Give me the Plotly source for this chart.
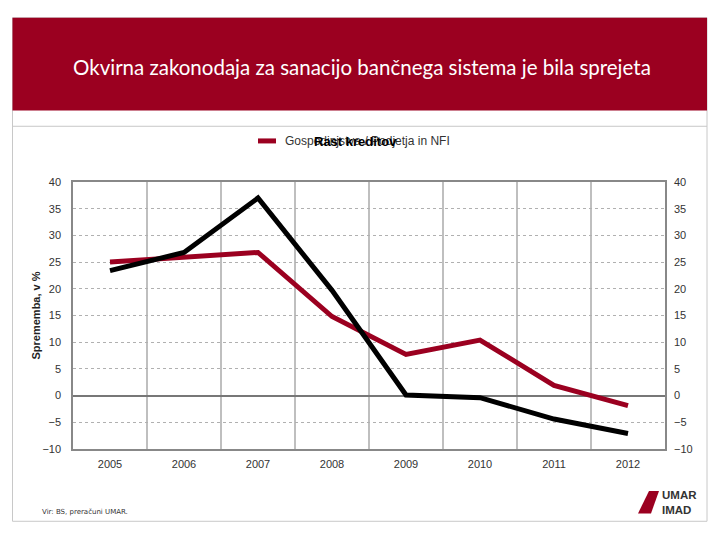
import plotly.graph_objects as go

years = ["2005", "2006", "2007", "2008", "2009", "2010", "2011", "2012"]
podjetja = [25.0, 25.8, 26.8, 14.8, 7.7, 10.4, 1.9, -1.9]
gospodinjstva = [23.4, 26.8, 37.0, 19.7, 0.1, -0.4, -4.4, -7.1]
y_ticks = [-10, -5, 0, 5, 10, 15, 20, 25, 30, 35, 40]

W, H = 720, 540
RED = "#9B0020"


def X(px):
    return px / W


def Y(py):
    return 1 - py / H


x0, x1, yt, yb = 73, 665, 180, 453

fig = go.Figure()
fig.add_trace(go.Scatter(x=years, y=podjetja, mode="lines", name="Gospodinjstva / Podjetja in NFI",
                         line=dict(color=RED, width=5), showlegend=False))
fig.add_trace(go.Scatter(x=years, y=gospodinjstva, mode="lines", name="Gospodinjstva",
                         line=dict(color="black", width=5), showlegend=False))
fig.add_trace(go.Scatter(x=years, y=podjetja, yaxis="y2", mode="lines", showlegend=False,
                         line=dict(width=0), hoverinfo="skip", opacity=0))

axfont = dict(family="Liberation Sans, Arial", size=11, color="#333333")
fig.update_layout(
    width=W, height=H,
    margin=dict(l=0, r=0, t=0, b=0),
    paper_bgcolor="white", plot_bgcolor="white",
    showlegend=False,
    xaxis=dict(domain=[X(x0), X(x1)], range=[-0.5, 7.5], type="category",
               showgrid=False, ticks="", tickfont=axfont, showline=True, linecolor="#888888",
               mirror=True, linewidth=1.5, ticklabelstandoff=4),
    yaxis=dict(domain=[Y(yb), Y(yt)], range=[-10, 40], tickvals=y_ticks,
               showgrid=True, gridcolor="#b0b0b0", griddash="dot", gridwidth=1,
               zeroline=True, zerolinecolor="#777777", zerolinewidth=1.5,
               showline=True, linecolor="#888888", linewidth=1.5, mirror=True,
               tickfont=axfont, ticks="", ticklabelstandoff=8,
               title=dict(text="<b>Sprememba, v %</b>",
                          font=dict(family="Liberation Sans, Arial", size=11, color="#222222"),
                          standoff=0)),
    yaxis2=dict(overlaying="y", side="right", range=[-10, 40], tickvals=y_ticks,
                showgrid=False, zeroline=False, tickfont=axfont, ticks="", ticklabelstandoff=8,
                anchor="x"),
)

shapes = []
for i in range(1, 8):
    shapes.append(dict(type="line", xref="x", yref="paper", x0=i - 0.5, x1=i - 0.5,
                       y0=Y(yb), y1=Y(yt), line=dict(color="#aaaaaa", width=1.5), layer="below"))
# slide frame
shapes.append(dict(type="rect", xref="paper", yref="paper", x0=X(12.5), x1=X(707),
                   y0=Y(527), y1=Y(12), line=dict(color="#c8c8c8", width=1)))
shapes.append(dict(type="line", xref="paper", yref="paper", x0=X(12.5), x1=X(707),
                   y0=Y(123), y1=Y(123), line=dict(color="#c8c8c8", width=1)))
# banner
shapes.append(dict(type="rect", xref="paper", yref="paper", x0=X(12.5), x1=X(707),
                   y0=Y(107), y1=Y(12), fillcolor=RED, line=dict(width=0)))
# legend swatch
shapes.append(dict(type="line", xref="paper", yref="paper", x0=X(258), x1=X(276),
                   y0=Y(138), y1=Y(138), line=dict(color=RED, width=5)))
# logo mark
shapes.append(dict(type="path", xref="paper", yref="paper",
                   path=f"M {X(638)},{Y(519)} L {X(649)},{Y(496)} L {X(659)},{Y(496)} L {X(651)},{Y(519)} Z",
                   fillcolor=RED, line=dict(width=0)))
fig.update_layout(shapes=shapes)

fig.add_annotation(text="Okvirna zakonodaja za sanacijo bančnega sistema je bila sprejeta",
                   xref="paper", yref="paper", x=X(362), y=Y(62), showarrow=False,
                   font=dict(family="Lato", size=20.5, color="white"), xanchor="center", yanchor="middle")
fig.add_annotation(text="Gospodinjstva / Podjetja in NFI", xref="paper", yref="paper",
                   x=X(283), y=Y(138), showarrow=False,
                   font=dict(family="Liberation Sans, Arial", size=12, color="#333333"),
                   xanchor="left", yanchor="middle")
fig.add_annotation(text="<b>Rast kreditov</b>", xref="paper", yref="paper", x=X(355), y=Y(139),
                   showarrow=False, font=dict(family="Liberation Sans, Arial", size=13, color="black"),
                   xanchor="center", yanchor="middle")
fig.add_annotation(text="Vir: BS, preračuni UMAR.", xref="paper", yref="paper", x=X(40), y=Y(517),
                   showarrow=False, font=dict(family="DejaVu Sans", size=7, color="#333333"),
                   xanchor="left", yanchor="middle")
fig.add_annotation(text="<b>UMAR<br>IMAD</b>", xref="paper", yref="paper", x=X(660), y=Y(508),
                   showarrow=False, font=dict(family="Liberation Sans, Arial", size=11.5, color="#333333"),
                   xanchor="left", yanchor="middle", align="left")

fig.write_html("out.html", config={"displayModeBar": False},
               post_script="document.body.style.margin='0';document.body.style.overflow='hidden';")
